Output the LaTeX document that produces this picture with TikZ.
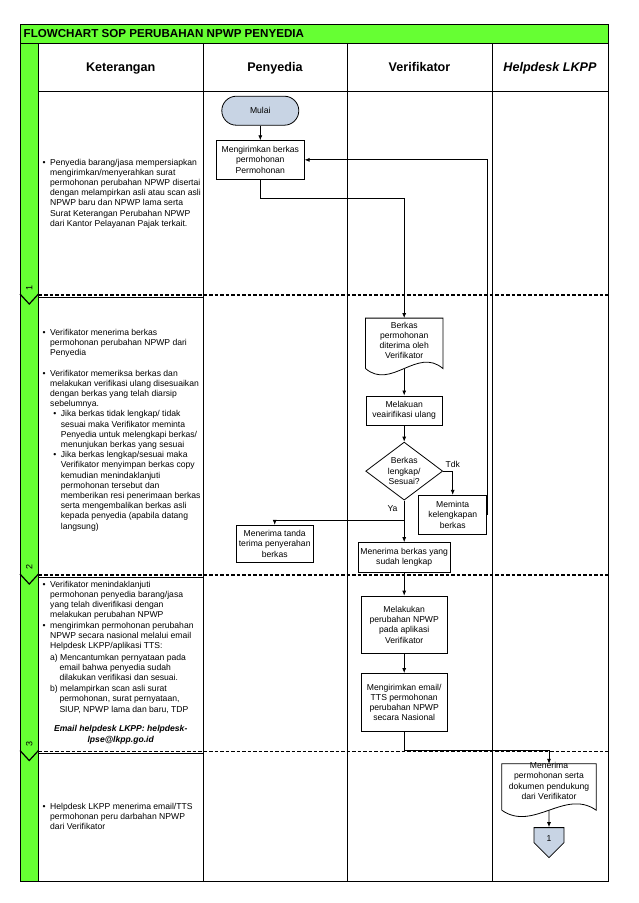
\documentclass[tikz,border=0pt]{standalone}
\usepackage{fontspec}
\setmainfont{Liberation Sans}
\usetikzlibrary{shapes,arrows.meta,positioning,calc}

\definecolor{stripgreen}{RGB}{102,255,51}
\definecolor{startblue}{RGB}{200,212,228}

\newcommand{\butir}{\makebox[7.5pt][l]{\textbullet}}
\newcommand{\geser}{\hspace*{7.5pt}}
\newcommand{\subbutir}{\hspace*{10.7pt}\makebox[7.5pt][l]{\textbullet}}
\newcommand{\subgeser}{\hspace*{18.2pt}}

\begin{document}
\begin{tikzpicture}[
            x=1pt, y=-1pt,
            font=\fontsize{8.6}{10.2}\selectfont,
            >={Latex[length=5pt, width=4pt]},
            process/.style={rectangle, draw, line width=0.8pt, align=center, inner sep=1pt},
            terminal/.style={process, rounded corners=14.5pt, fill=startblue, minimum width=77pt, minimum height=29pt},
            decision/.style={diamond, draw, line width=0.8pt, align=center, inner sep=0pt, aspect=1.33, minimum width=77pt, minimum height=58pt},
            doc/.style={rectangle, inner sep=0pt},
            doctext/.style={align=center, inner sep=0pt},
            offpage/.style={signal, signal to=south, signal pointer angle=90, draw, line width=0.8pt, fill=startblue, minimum width=30pt, minimum height=17pt, inner sep=1pt},
            arrow/.style={->, line width=0.8pt},
            note/.style={anchor=north west, align=left, inner sep=0pt},
            head/.style={anchor=base, inner sep=0pt, font=\fontsize{12.6}{15}\selectfont\bfseries},
            tabel/.style={line width=1pt},
            rowline/.style={line width=1.6pt, dash pattern=on 3.5pt off 2pt}
        ]
            \useasboundingbox (0,0) rectangle (638,903);

            % table
            \draw[tabel, fill=stripgreen] (20,24) rectangle (608,43.5);
            \node[anchor=west, inner sep=0pt, font=\fontsize{11.6}{14}\selectfont\bfseries] (judul) at (23.5,33.8) {FLOWCHART SOP PERUBAHAN NPWP PENYEDIA};
            \draw[tabel, fill=stripgreen] (20,43.5) rectangle (38.5,881);
            \draw[tabel] (38.5,43.5) rectangle (608,881);
            \draw[tabel] (38.5,91) -- (608,91);
            \foreach \x in {203,347,492}
                \draw[tabel] (\x,43.5) -- (\x,881);
            \foreach \y/\n/\ly in {295/1/288, 575/2/567, 751.5/3/744} {
                \draw[rowline] (38.5,\y) -- (608,\y);
                \draw[line width=0.5pt] (38.5,\y+2.2) -- (203,\y+2.2);
                \draw[line width=1.2pt] (20,\y-1) -- (29.25,\y+9) -- (38.5,\y-1);
                \node[rotate=90, inner sep=0pt, font=\fontsize{9}{10}\selectfont] (no\n) at (29.25,\ly) {\n};
            }

            % headers
            \node[head] (ket) at (120.7,71.8) {Keterangan};
            \node[head] (pen) at (275,71.8) {Penyedia};
            \node[head] (ver) at (419.5,71.8) {Verifikator};
            \node[head, font=\fontsize{12.6}{15}\selectfont\bfseries\itshape] (hd) at (550,71.8) {Helpdesk LKPP};

            % keterangan
            \node[note] (ket1) at (42.5,158.7) {\butir Penyedia barang/jasa mempersiapkan\\
                \geser mengirimkan/menyerahkan surat\\
                \geser permohonan perubahan NPWP disertai\\
                \geser dengan melampirkan asli atau scan asli\\
                \geser NPWP baru dan NPWP lama serta\\
                \geser Surat Keterangan Perubahan NPWP\\
                \geser dari Kantor Pelayanan Pajak terkait.};
            \node[note] (ket2) at (42.5,328.6) {\butir Verifikator menerima berkas\\
                \geser permohonan perubahan NPWP dari\\
                \geser Penyedia\\[10.4pt]
                \butir Verifikator memeriksa berkas dan\\
                \geser melakukan verifikasi ulang disesuaikan\\
                \geser dengan berkas yang telah diarsip\\
                \geser sebelumnya.\\
                \subbutir Jika berkas tidak lengkap/ tidak\\
                \subgeser sesuai maka Verifikator meminta\\
                \subgeser Penyedia untuk melengkapi berkas/\\
                \subgeser menunjukan berkas yang sesuai\\
                \subbutir Jika berkas lengkap/sesuai maka\\
                \subgeser Verifikator menyimpan berkas copy\\
                \subgeser kemudian menindaklanjuti\\
                \subgeser permohonan tersebut dan\\
                \subgeser memberikan resi penerimaan berkas\\
                \subgeser serta mengembalikan berkas asli\\
                \subgeser kepada penyedia (apabila datang\\
                \subgeser langsung)};
            \node[note] (ket3) at (42.5,580.9) {\butir Verifikator menindaklanjuti\\
                \geser permohonan penyedia barang/jasa\\
                \geser yang telah diverifikasi dengan\\
                \geser melakukan perubahan NPWP\\
                \butir mengirimkan permohonan perubahan\\
                \geser NPWP secara nasional melalui email\\
                \geser Helpdesk LKPP/aplikasi TTS:\\[1.8pt]
                \geser a) Mencantumkan pernyataan pada\\
                \geser\hspace*{9.3pt}email bahwa penyedia sudah\\
                \geser\hspace*{9.3pt}dilakukan verifikasi dan sesuai.\\[0.6pt]
                \geser b) melampirkan scan asli surat\\
                \geser\hspace*{9.3pt}permohonan, surat pernyataan,\\
                \geser\hspace*{9.3pt}SIUP, NPWP lama dan baru, TDP};
            \node[align=center, inner sep=0pt, font=\fontsize{8.6}{10.2}\selectfont\bfseries\itshape] (surel) at (120.7,734.8) {Email helpdesk LKPP: helpdesk-\\ lpse@lkpp.go.id};
            \node[note] (ket4) at (42.5,803) {\butir Helpdesk LKPP menerima email/TTS\\
                \geser permohonan peru darbahan NPWP\\
                \geser dari Verifikator};

            % flow
            \node[terminal] (mulai) at (260.3,110.7) {Mulai};
            \node[process, below=14.7pt of mulai, minimum width=87.7pt, minimum height=38.3pt] (kirim) {Mengirimkan berkas\\ permohonan\\ Permohonan};
            \node[doc, minimum width=77pt, minimum height=50pt, label={[doctext, yshift=3pt]center:{Berkas\\ permohonan\\ diterima oleh\\ Verifikator}}] (terima) at (404.2,343.3) {};
            \node[process, below=27pt of terima, minimum width=76.6pt, minimum height=29pt] (ulang) {Melakuan\\ veairifikasi ulang};
            \node[decision, below=16.4pt of ulang] (cek) {Berkas\\ lengkap/\\ Sesuai?};
            \node[process, minimum width=68pt, minimum height=39pt] (minta) at (452.7,514.8) {Meminta\\ kelengkapan\\ berkas};
            \node[process, below=41.7pt of cek, minimum width=92.4pt, minimum height=29.3pt] (lengkap) {Menerima berkas yang\\ sudah lengkap};
            \node[process, minimum width=77.3pt, minimum height=37pt] (tanda) at (274.7,543.8) {Menerima tanda\\ terima penyerahan\\ berkas};
            \node[process, below=23.4pt of lengkap, minimum width=85.6pt, minimum height=57.3pt] (ubah) {Melakukan\\ perubahan NPWP\\ pada aplikasi\\ Verifikator};
            \node[process, below=19.3pt of ubah, minimum width=85.6pt, minimum height=58pt] (email) {Mengirimkan email/\\ TTS permohonan\\ perubahan NPWP\\ secara Nasional};
            \node[doc, minimum width=94pt, minimum height=46pt, label={[doctext, yshift=6pt]center:{Menerima\\ permohonan serta\\ dokumen pendukung\\ dari Verifikator}}] (dukung) at (549,787) {};
            \node[offpage, below=17pt of dukung] (sambung) {\rule{0pt}{13pt}1};

            \foreach \n in {terima,dukung}
                \draw[line width=0.8pt] (\n.south west) -- (\n.north west) -- (\n.north east) -- (\n.south east)
                    .. controls ($(\n.south east)!0.33!(\n.south west)+(0,-22)$) and ($(\n.south east)!0.67!(\n.south west)+(0,22)$) .. (\n.south west);

            \draw[arrow] (mulai) -- (kirim);
            \draw[arrow] (kirim.south) -- ++(0,19) -| (terima.north);
            \draw[arrow] (terima) -- (ulang);
            \draw[arrow] (ulang) -- (cek);
            \draw[arrow] (cek.east) -| node[above] {Tdk} (minta.north);
            \draw[arrow] (minta.east) |- (kirim.east);
            \draw[arrow] (cek.south) -- node[left=3pt, pos=0.2] {Ya} (lengkap.north);
            \draw[arrow] (cek.south) -- ++(0,19.4) -| (tanda.north);
            \draw[arrow] (lengkap) -- (ubah);
            \draw[arrow] (ubah) -- (email);
            \draw[arrow] (email.south) -- ++(0,18.7) -| (dukung.north);
            \draw[arrow] (dukung) -- (sambung);
        \end{tikzpicture}
\end{document}
